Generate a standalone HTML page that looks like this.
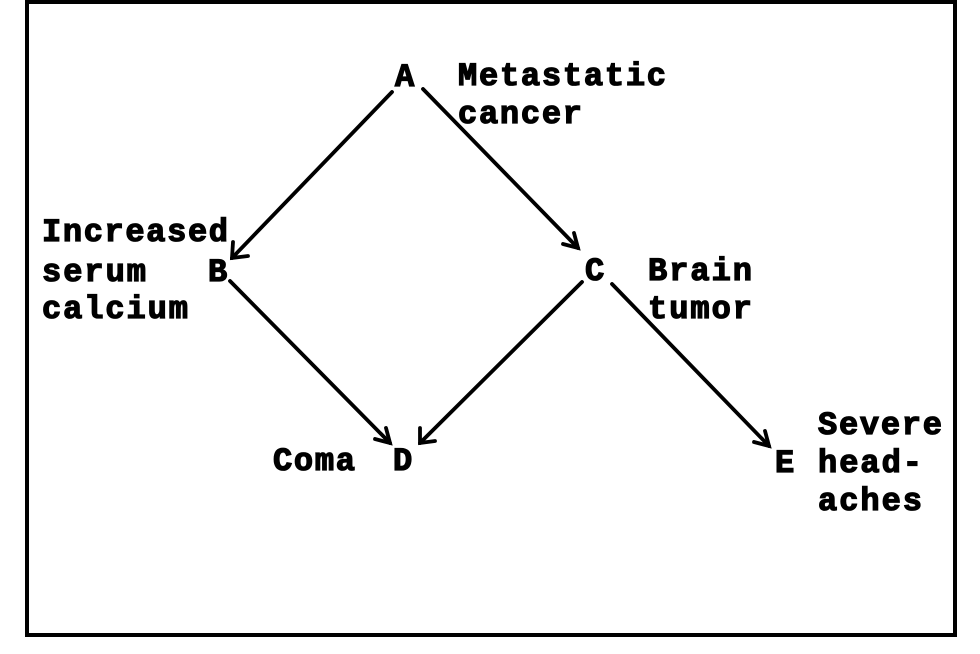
<!DOCTYPE html>
<html><head><style>html,body{margin:0;padding:0;background:#fff}svg{display:block}</style></head>
<body>
<svg width="980" height="654" viewBox="0 0 980 654" xmlns="http://www.w3.org/2000/svg">
<rect x="27" y="2" width="928" height="633" fill="none" stroke="#000" stroke-width="4"/>
<g stroke="#000" stroke-width="3.8" fill="none" stroke-linecap="round">
<line x1="392" y1="92" x2="232" y2="258"/>
<polyline points="233,242 232,258 248,256"/>
<line x1="423" y1="89" x2="578" y2="248"/>
<polyline points="563,244 578,248 574,233"/>
<line x1="230" y1="281" x2="390" y2="443"/>
<polyline points="375,439 390,443 386,428"/>
<line x1="582" y1="282" x2="420" y2="443"/>
<polyline points="420,428 420,443 435,441"/>
<line x1="612" y1="284" x2="769" y2="446"/>
<polyline points="754,442 769,446 765,431"/>
</g>
<g font-family="Liberation Mono, monospace" font-weight="bold" font-size="32" fill="#000" stroke="#000" stroke-width="1.3" lengthAdjust="spacingAndGlyphs">
<text x="395" y="86" textLength="23">A</text>
<text x="458" y="85" textLength="208">Metastatic</text>
<text x="458" y="123" textLength="124">cancer</text>
<text x="42" y="241" textLength="186">Increased</text>
<text x="42" y="281" textLength="104">serum</text>
<text x="42" y="318" textLength="146">calcium</text>
<text x="208" y="281" textLength="22">B</text>
<text x="585" y="280" textLength="22">C</text>
<text x="648" y="280" textLength="104">Brain</text>
<text x="648" y="318" textLength="104">tumor</text>
<text x="273" y="470" textLength="82">Coma</text>
<text x="393" y="470" textLength="22">D</text>
<text x="775" y="472" textLength="20">E</text>
<text x="818" y="434" textLength="124">Severe</text>
<text x="818" y="472" textLength="104">head-</text>
<text x="818" y="510" textLength="104">aches</text>
</g>
</svg>
</body></html>
